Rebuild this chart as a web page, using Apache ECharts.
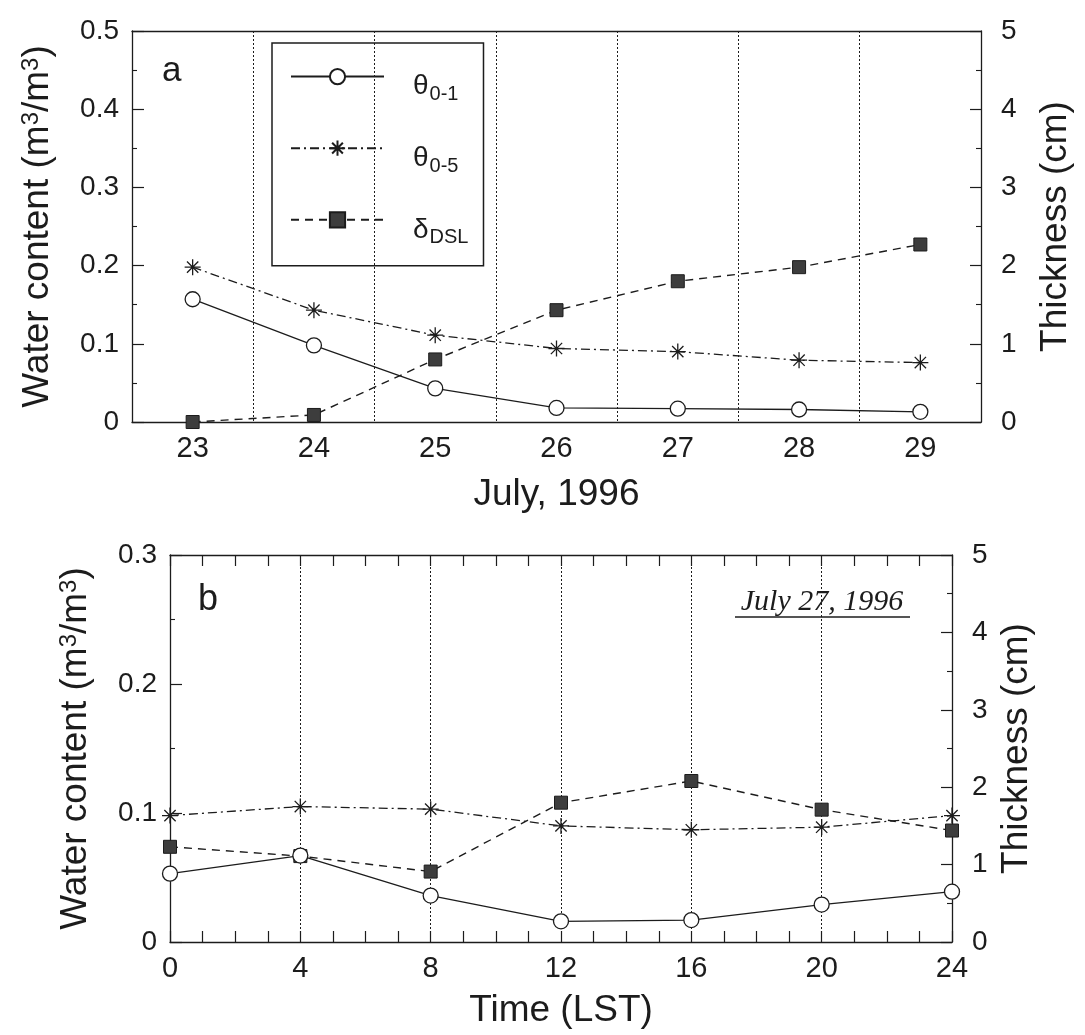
<!DOCTYPE html>
<html>
<head>
<meta charset="utf-8">
<script src="https://cdn.jsdelivr.net/npm/echarts@6/dist/echarts.min.js"></script>
<style>
html,body{margin:0;padding:0;background:#fff;}
#main{width:1085px;height:1035px;}
</style>
</head>
<body>
<div id="main"></div>
<script>
// panel a : daily values, July 1996
var days = ['23', '24', '25', '26', '27', '28', '29'];
var theta01Daily = [0.157, 0.098, 0.043, 0.018, 0.017, 0.016, 0.013];
var theta05Daily = [0.198, 0.143, 0.111, 0.094, 0.090, 0.079, 0.076];
var dslDaily = [0.0, 0.09, 0.80, 1.43, 1.80, 1.98, 2.27];

// panel b : July 27, 1996, every 4 hours
var hours = [0, 4, 8, 12, 16, 20, 24];
var theta01Hourly = [0.053, 0.067, 0.036, 0.016, 0.017, 0.029, 0.039];
var theta05Hourly = [0.098, 0.105, 0.103, 0.090, 0.087, 0.089, 0.098];
var dslHourly = [1.23, 1.11, 0.91, 1.80, 2.08, 1.71, 1.44];

var legendParts = {'θ0-1': ['θ', '0-1'], 'θ0-5': ['θ', '0-5'], 'δDSL': ['δ', 'DSL']};

var ink = '#1c1c1c';
var font = 'Liberation Sans';
var star = 'path://M0,-10L0,10M-10,0L10,0M-7.07,-7.07L7.07,7.07M-7.07,7.07L7.07,-7.07';

function pairs(xs, ys) {
    return xs.map(function (x, i) { return [x, ys[i]]; });
}

function yAx(grid, pos, max, interval, tickLen, margin, name, gap) {
    return {
        gridIndex: grid, type: 'value', position: pos,
        min: 0, max: max, interval: interval,
        axisLine: {show: true, onZero: false, lineStyle: {color: ink, width: 1.3}},
        axisTick: {show: true, inside: true, length: tickLen, lineStyle: {color: ink, width: 1.2}},
        minorTick: {show: true, splitNumber: 2, length: 5, lineStyle: {color: ink, width: 1.1}},
        axisLabel: {color: ink, fontSize: 28, margin: margin, fontFamily: font},
        splitLine: {show: false},
        name: name, nameLocation: 'middle', nameGap: gap, nameRotate: 90,
        nameTextStyle: {
            color: ink, fontSize: 37, fontFamily: font,
            rich: {sup: {fontSize: 24, verticalAlign: 'top', color: ink, fontFamily: font}}
        }
    };
}

function lineSeries(name, xi, yi, data, kind) {
    var s = {
        name: name, type: 'line', xAxisIndex: xi, yAxisIndex: yi, data: data,
        clip: false, z: 3
    };
    if (kind === 'circle') {
        s.symbol = 'circle'; s.symbolSize = 15; s.z = 5;
        s.itemStyle = {color: '#fff', borderColor: ink, borderWidth: 1.3};
        s.lineStyle = {color: ink, width: 1.3, type: 'solid'};
    } else if (kind === 'star') {
        s.symbol = star; s.symbolSize = 16; s.z = 4;
        s.itemStyle = {color: ink, borderColor: ink, borderWidth: 1.3};
        s.lineStyle = {color: ink, width: 1.3, type: [9, 4, 2, 4]};
    } else {
        s.symbol = 'rect'; s.symbolSize = 13;
        s.itemStyle = {color: '#3d3d3d', borderColor: ink, borderWidth: 1};
        s.lineStyle = {color: ink, width: 1.4, type: [8, 6]};
    }
    return s;
}

var myChart = echarts.init(document.getElementById('main'));

var option = {
    animation: false,
    backgroundColor: '#fff',
    textStyle: {fontFamily: font},
    grid: [
        {left: 132, top: 31, width: 849, height: 391},
        {left: 170, top: 555, width: 782, height: 387}
    ],
    legend: {
        data: ['θ0-1', 'θ0-5', 'δDSL'],
        orient: 'vertical', left: 272, top: 43,
        itemWidth: 93, itemHeight: 19, itemGap: 35,
        padding: [25, 15, 18, 18],
        borderColor: ink, borderWidth: 1.5,
        selectedMode: false,
        formatter: function (name) {
            var p = legendParts[name];
            return '{g|' + p[0] + '}{s|' + p[1] + '}';
        },
        textStyle: {
            color: ink,
            rich: {
                g: {fontSize: 28, padding: [24, 0, 4, 24], verticalAlign: 'bottom', color: ink, fontFamily: font},
                s: {fontSize: 20, padding: [0, 0, 0, 1], verticalAlign: 'bottom', color: ink, fontFamily: font}
            }
        }
    },
    xAxis: [
        {
            gridIndex: 0, type: 'category', data: days, boundaryGap: true, position: 'bottom',
            axisLine: {onZero: false, lineStyle: {color: ink, width: 1.3}},
            axisTick: {inside: true, alignWithLabel: true, interval: 0, length: 6, lineStyle: {color: ink, width: 1.2}},
            axisLabel: {color: ink, fontSize: 29, margin: 12, interval: 0, fontFamily: font},
            splitLine: {show: true, interval: 0, lineStyle: {color: ink, width: 1, type: [2, 2]}},
            name: 'July, 1996', nameLocation: 'middle', nameGap: 54,
            nameTextStyle: {color: ink, fontSize: 37, fontFamily: font}
        },
        {
            gridIndex: 0, type: 'category', data: days, boundaryGap: true, position: 'top',
            axisLine: {onZero: false, lineStyle: {color: ink, width: 1.3}},
            axisTick: {inside: true, alignWithLabel: true, interval: 0, length: 6, lineStyle: {color: ink, width: 1.2}},
            axisLabel: {show: false},
            splitLine: {show: false}
        },
        {
            gridIndex: 1, type: 'value', position: 'bottom', min: 0, max: 24, interval: 4,
            axisLine: {onZero: false, lineStyle: {color: ink, width: 1.3}},
            axisTick: {inside: true, length: 11, lineStyle: {color: ink, width: 1.2}},
            minorTick: {show: true, splitNumber: 4, length: 11, lineStyle: {color: ink, width: 1.2}},
            axisLabel: {color: ink, fontSize: 29, margin: 12, fontFamily: font},
            splitLine: {show: true, lineStyle: {color: ink, width: 1, type: [2, 2]}},
            name: 'Time (LST)', nameLocation: 'middle', nameGap: 50,
            nameTextStyle: {color: ink, fontSize: 37, fontFamily: font}
        },
        {
            gridIndex: 1, type: 'value', position: 'top', min: 0, max: 24, interval: 4,
            axisLine: {onZero: false, lineStyle: {color: ink, width: 1.3}},
            axisTick: {inside: true, length: 11, lineStyle: {color: ink, width: 1.2}},
            minorTick: {show: true, splitNumber: 4, length: 11, lineStyle: {color: ink, width: 1.2}},
            axisLabel: {show: false},
            splitLine: {show: false}
        }
    ],
    yAxis: [
        yAx(0, 'left', 0.5, 0.1, 12, 13, 'Water content (m{sup|3}/m{sup|3})', 76),
        yAx(0, 'right', 5, 1, 11, 20, 'Thickness (cm)', 56),
        yAx(1, 'left', 0.3, 0.1, 12, 13, 'Water content (m{sup|3}/m{sup|3})', 76),
        yAx(1, 'right', 5, 1, 11, 20, 'Thickness (cm)', 46)
    ],
    series: [
        lineSeries('δDSL', 0, 1, dslDaily, 'rect'),
        lineSeries('θ0-5', 0, 0, theta05Daily, 'star'),
        lineSeries('θ0-1', 0, 0, theta01Daily, 'circle'),
        lineSeries('δDSL', 2, 3, pairs(hours, dslHourly), 'rect'),
        lineSeries('θ0-5', 2, 2, pairs(hours, theta05Hourly), 'star'),
        lineSeries('θ0-1', 2, 2, pairs(hours, theta01Hourly), 'circle')
    ],
    graphic: [
        {type: 'text', x: 162, y: 71, style: {text: 'a', fontSize: 35, fontFamily: font, fill: ink, align: 'left', verticalAlign: 'middle'}},
        {type: 'text', x: 198, y: 600, style: {text: 'b', fontSize: 36, fontFamily: font, fill: ink, align: 'left', verticalAlign: 'middle'}},
        {type: 'text', x: 822, y: 602, style: {text: 'July 27, 1996', font: 'italic 30px "Liberation Serif"', fill: ink, align: 'center', verticalAlign: 'middle'}},
        {type: 'line', shape: {x1: 735, y1: 617, x2: 910, y2: 617}, style: {stroke: ink, lineWidth: 1.4}}
    ]
};

myChart.setOption(option);
</script>
</body>
</html>
